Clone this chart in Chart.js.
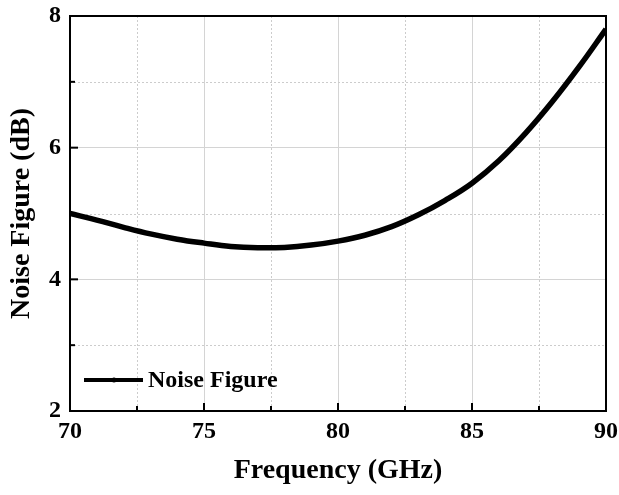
<!DOCTYPE html>
<html lang="en">
<head>
    <meta charset="UTF-8">
    <title>Noise Figure</title>
    <script src="https://cdn.jsdelivr.net/npm/chart.js@4"></script>
    <style>
        html, body { margin: 0; padding: 0; background: #fff; }
        #wrap { width: 619px; height: 495px; }
    </style>
</head>
<body>
    <div id="wrap"><canvas id="nfChart" width="619" height="495"></canvas></div>

    <script>
        // Measured noise figure vs. frequency
        const freqGHz = [70, 71, 72, 73, 74, 75, 76, 77, 78, 79, 80, 81, 82, 83, 84, 85, 86, 87, 88, 89, 90];
        const noiseFigure = [5.00, 4.90, 4.79, 4.69, 4.61, 4.55, 4.50, 4.48, 4.485, 4.52, 4.58, 4.67, 4.80, 4.98, 5.20, 5.46, 5.80, 6.22, 6.70, 7.23, 7.80];
        const seriesLabel = 'Noise Figure';

        const xMin = 70, xMax = 90, xStep = 5;
        const yMin = 2, yMax = 8, yStep = 2;

        const serif = "'Liberation Serif', 'Times New Roman', serif";

        // Frame, minor dotted grid, inward ticks and the legend box
        const framePlugin = {
            id: 'originFrame',
            beforeDatasetsDraw(chart) {
                const { ctx, chartArea: a, scales: { x, y } } = chart;
                ctx.save();
                ctx.strokeStyle = '#cccccc';
                ctx.lineWidth = 1;
                ctx.setLineDash([2, 2]);
                for (let v = xMin + xStep / 2; v < xMax; v += xStep) {
                    const px = Math.round(x.getPixelForValue(v)) + 0.5;
                    ctx.beginPath(); ctx.moveTo(px, a.top); ctx.lineTo(px, a.bottom); ctx.stroke();
                }
                for (let v = yMin + yStep / 2; v < yMax; v += yStep) {
                    const py = Math.round(y.getPixelForValue(v)) + 0.5;
                    ctx.beginPath(); ctx.moveTo(a.left, py); ctx.lineTo(a.right, py); ctx.stroke();
                }
                ctx.restore();
            },
            afterDraw(chart) {
                const { ctx, chartArea: a, scales: { x, y } } = chart;
                ctx.save();
                ctx.strokeStyle = '#000';
                ctx.lineWidth = 2;
                ctx.strokeRect(a.left, a.top, a.right - a.left, a.bottom - a.top);

                // ticks pointing into the plot
                for (let v = xMin; v <= xMax; v += xStep / 2) {
                    const px = x.getPixelForValue(v);
                    const len = (v - xMin) % xStep === 0 ? 8 : 5;
                    ctx.beginPath(); ctx.moveTo(px, a.bottom); ctx.lineTo(px, a.bottom - len); ctx.stroke();
                }
                for (let v = yMin; v <= yMax; v += yStep / 2) {
                    const py = y.getPixelForValue(v);
                    const len = (v - yMin) % yStep === 0 ? 8 : 5;
                    ctx.beginPath(); ctx.moveTo(a.left, py); ctx.lineTo(a.left + len, py); ctx.stroke();
                }

                // legend entry
                const ly = a.bottom - 31;
                ctx.lineWidth = 4;
                ctx.beginPath(); ctx.moveTo(a.left + 14, ly); ctx.lineTo(a.left + 73, ly); ctx.stroke();
                ctx.fillStyle = '#000';
                ctx.beginPath(); ctx.arc(a.left + 44, ly, 2.5, 0, Math.PI * 2); ctx.fill();
                ctx.font = 'bold 24px ' + serif;
                ctx.textBaseline = 'middle';
                ctx.textAlign = 'left';
                ctx.fillText(chart.data.datasets[0].label, a.left + 78, ly + 1);
                ctx.restore();
            }
        };

        new Chart(document.getElementById('nfChart'), {
            type: 'line',
            data: {
                datasets: [{
                    label: seriesLabel,
                    data: freqGHz.map((f, i) => ({ x: f, y: noiseFigure[i] })),
                    borderColor: '#000',
                    borderWidth: 5.5,
                    pointRadius: 0,
                    tension: 0.4,
                    fill: false
                }]
            },
            plugins: [framePlugin],
            options: {
                responsive: false,
                animation: false,
                layout: { padding: { top: 16, right: 13, left: 0, bottom: 0 } },
                plugins: {
                    legend: { display: false },
                    tooltip: { enabled: false }
                },
                scales: {
                    x: {
                        type: 'linear',
                        min: xMin,
                        max: xMax,
                        afterFit: (s) => { s.height = 84; s.paddingLeft = 0; s.paddingRight = 0; },
                        border: { display: false },
                        grid: { color: '#d4d4d4', lineWidth: 1, drawTicks: false },
                        ticks: {
                            stepSize: xStep,
                            autoSkip: false,
                            maxRotation: 0,
                            padding: 6,
                            color: '#000',
                            font: { family: serif, size: 24, weight: 'bold' }
                        },
                        title: {
                            display: true,
                            text: 'Frequency (GHz)',
                            color: '#000',
                            padding: { top: 0, bottom: 7 },
                            font: { family: serif, size: 28, weight: 'bold' }
                        }
                    },
                    y: {
                        type: 'linear',
                        min: yMin,
                        max: yMax,
                        afterFit: (s) => { s.width = 70; s.paddingTop = 0; s.paddingBottom = 0; },
                        border: { display: false },
                        grid: { color: '#d4d4d4', lineWidth: 1, drawTicks: false },
                        ticks: {
                            stepSize: yStep,
                            padding: 9,
                            color: '#000',
                            font: { family: serif, size: 24, weight: 'bold' }
                        },
                        title: {
                            display: true,
                            text: 'Noise Figure (dB)',
                            color: '#000',
                            padding: { top: 5, bottom: 0 },
                            font: { family: serif, size: 28, weight: 'bold' }
                        }
                    }
                }
            }
        });
    </script>
</body>
</html>
